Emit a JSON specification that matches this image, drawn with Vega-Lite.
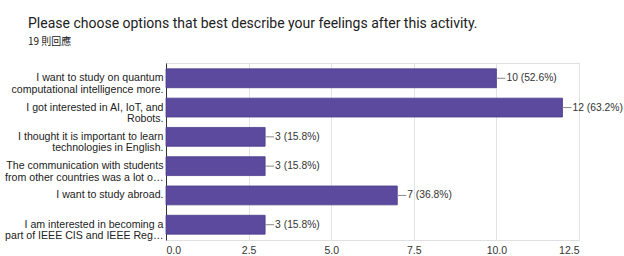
{
  "$schema": "https://vega.github.io/schema/vega-lite/v6.json",
  "autosize": "none",
  "width": 413,
  "height": 177,
  "padding": {"left": 166, "top": 63, "right": 45, "bottom": 16},
  "background": "white",
  "title": {
    "text": "Please choose options that best describe your feelings after this activity.",
    "subtitle": "19 則回應",
    "anchor": "start",
    "frame": "group",
    "dx": -138,
    "offset": 16,
    "font": "Roboto",
    "fontSize": 14,
    "fontWeight": "normal",
    "color": "#212121",
    "subtitleFont": "Noto Sans CJK TC",
    "subtitleFontSize": 10,
    "subtitleColor": "#222222",
    "subtitlePadding": 6
  },
  "data": {
    "values": [
      {"option": "I want to study on quantum|computational intelligence more.", "count": 10, "text": "10 (52.6%)"},
      {"option": "I got interested in AI, IoT, and|Robots.", "count": 12, "text": "12 (63.2%)"},
      {"option": "I thought it is important to learn|technologies in English.", "count": 3, "text": "3 (15.8%)"},
      {"option": "The communication with students|from other countries was a lot o…", "count": 3, "text": "3 (15.8%)"},
      {"option": "I want to study abroad.", "count": 7, "text": "7 (36.8%)"},
      {"option": "I am interested in becoming a|part of IEEE CIS and IEEE Reg…", "count": 3, "text": "3 (15.8%)"}
    ]
  },
  "config": {
    "view": {"stroke": "#e0e0e0"},
    "font": "Liberation Sans"
  },
  "encoding": {
    "y": {
      "field": "option",
      "type": "nominal",
      "sort": null,
      "title": null,
      "scale": {"paddingInner": 0.356, "paddingOuter": 0.2},
      "axis": {
        "labelExpr": "split(datum.label, '|')",
        "labelFont": "Liberation Sans",
        "labelFontSize": 10.6,
        "labelColor": "#222222",
        "labelLimit": 200,
        "labelPadding": 3,
        "labelLineHeight": 11.5,
        "ticks": false,
        "domainColor": "#333333",
        "domainWidth": 1
      }
    }
  },
  "layer": [
    {
      "mark": {"type": "bar", "color": "#5b4a9d", "stroke": "#4b3c8c", "strokeWidth": 0.8},
      "encoding": {
        "x": {
          "field": "count",
          "type": "quantitative",
          "title": null,
          "scale": {"domain": [0, 12.5], "nice": false},
          "axis": {
            "values": [0, 2.5, 5, 7.5, 10, 12.5],
            "format": ".1f",
            "grid": true,
            "gridColor": "#e3e3e3",
            "domain": false,
            "ticks": false,
            "labelFont": "Liberation Sans",
            "labelFontSize": 10.5,
            "labelColor": "#333333",
            "labelPadding": 5
          }
        }
      }
    },
    {
      "mark": {"type": "rule", "color": "#888888", "strokeWidth": 1, "x2Offset": 9},
      "encoding": {
        "x": {"field": "count", "type": "quantitative"},
        "x2": {"field": "count"}
      }
    },
    {
      "mark": {"type": "text", "align": "left", "dx": 10, "fontSize": 10.3, "font": "Liberation Sans", "color": "#333333"},
      "encoding": {
        "x": {"field": "count", "type": "quantitative"},
        "text": {"field": "text"}
      }
    }
  ]
}
